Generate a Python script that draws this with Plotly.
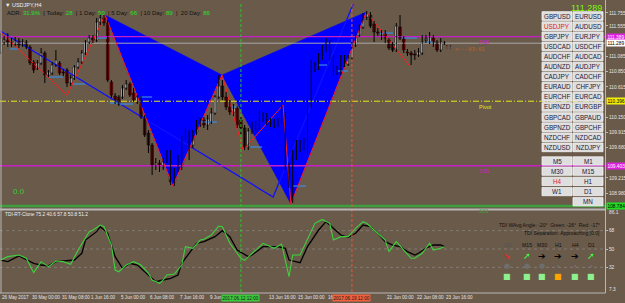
import plotly.graph_objects as go

W, H = 625, 303
BG = "#6a5a4a"
BORDER = "#b8b8b8"
FONT = "Liberation Sans, Arial, sans-serif"


def fx(px):
    return px / W


def fy(py):
    return 1 - py / H


# ---------------- data: USDJPY H4 candles ----------------
opens = [111.153, 111.307, 111.338, 111.307, 111.276, 111.322, 111.261, 111.307, 111.230, 110.999,
         110.907, 110.984, 111.138, 110.799, 110.830, 110.953, 110.984, 110.845, 110.876, 110.676,
         110.753, 110.922, 110.999, 111.138, 111.307, 111.368, 111.338, 111.615, 111.676, 111.599,
         110.691, 110.476, 110.461, 110.461, 110.599, 110.661, 110.522, 110.384, 110.445, 110.153,
         109.907, 109.722, 109.415, 109.445, 109.384, 109.491, 109.599, 109.153, 109.368, 109.384,
         109.830, 109.922, 109.722, 109.922, 110.030, 110.107, 110.030, 110.076, 110.215, 110.461,
         110.630, 110.461, 110.307, 110.230, 110.291, 110.107, 109.984, 109.691, 109.938, 109.984,
         109.999, 110.153, 110.153, 110.076, 110.076, 110.030, 110.076, 110.168, 109.384, 109.107,
         109.568, 109.676, 109.707, 109.615, 110.338, 110.938, 110.907, 111.076, 111.215, 111.307,
         111.076, 110.845, 110.845, 111.061, 110.968, 111.061, 111.261, 111.415, 111.538, 111.691,
         111.722, 111.584, 111.461, 111.415, 111.445, 111.338, 111.276, 111.184, 111.538, 111.368,
         111.153, 111.138, 111.122, 111.107, 111.138, 111.338, 111.307, 111.368, 111.307, 111.184,
         111.291]
highs = [111.445, 111.399, 111.445, 111.368, 111.384, 111.368, 111.353, 111.338, 111.261, 111.030,
         111.030, 111.215, 111.168, 110.876, 110.999, 111.184, 111.015, 110.891, 110.907, 110.799,
         110.953, 111.061, 111.184, 111.338, 111.415, 111.415, 111.676, 111.738, 111.722, 111.645,
         110.722, 110.522, 110.491, 110.645, 110.722, 110.691, 110.599, 110.491, 110.476, 110.184,
         109.953, 109.753, 109.522, 109.491, 109.522, 109.645, 109.645, 109.368, 109.568, 109.861,
         109.984, 109.953, 109.953, 110.107, 110.138, 110.153, 110.184, 110.291, 110.491, 110.799,
         110.722, 110.538, 110.415, 110.353, 110.322, 110.153, 110.030, 109.984, 110.076, 110.091,
         110.261, 110.230, 110.215, 110.138, 110.122, 110.138, 110.338, 110.230, 109.445, 109.645,
         109.799, 109.799, 109.830, 110.415, 111.030, 110.999, 111.138, 111.261, 111.368, 111.338,
         111.107, 110.938, 111.107, 111.107, 111.107, 111.307, 111.461, 111.584, 111.753, 111.784,
         111.768, 111.630, 111.522, 111.491, 111.491, 111.368, 111.307, 111.599, 111.722, 111.399,
         111.199, 111.168, 111.184, 111.215, 111.415, 111.415, 111.461, 111.415, 111.338, 111.368,
         111.322]
lows = [111.122, 111.261, 111.230, 111.230, 111.245, 111.215, 111.230, 111.199, 110.953, 110.830,
        110.876, 110.953, 110.676, 110.768, 110.799, 110.922, 110.799, 110.784, 110.615, 110.630,
        110.722, 110.891, 110.968, 111.107, 111.276, 111.291, 111.307, 111.568, 111.553, 110.691,
        110.445, 110.353, 110.322, 110.430, 110.568, 110.461, 110.384, 110.353, 110.122, 109.845,
        109.599, 109.261, 109.338, 109.307, 109.338, 109.445, 109.107, 109.091, 109.307, 109.338,
        109.799, 109.491, 109.676, 109.876, 109.999, 109.984, 109.953, 110.045, 110.184, 110.430,
        110.415, 110.261, 110.184, 110.168, 109.984, 109.876, 109.645, 109.645, 109.891, 109.938,
        109.968, 110.076, 110.030, 109.999, 109.984, 109.999, 110.045, 109.338, 109.061, 108.830,
        109.491, 109.615, 109.645, 109.584, 110.291, 110.845, 110.876, 111.030, 111.153, 111.030,
        110.784, 110.799, 110.799, 110.922, 110.938, 111.030, 111.230, 111.384, 111.507, 111.645,
        111.522, 111.307, 111.399, 111.338, 111.291, 111.184, 111.153, 111.153, 111.338, 111.138,
        111.091, 110.953, 111.030, 111.076, 111.107, 111.291, 111.276, 111.230, 111.153, 111.153,
        111.261]
closes = [111.368, 111.338, 111.307, 111.276, 111.322, 111.261, 111.307, 111.230, 110.984, 110.876,
          110.984, 111.138, 110.799, 110.845, 110.953, 111.030, 110.830, 110.830, 110.676, 110.753,
          110.922, 110.999, 111.138, 111.307, 111.368, 111.338, 111.615, 111.676, 111.599, 110.722,
          110.491, 110.415, 110.353, 110.599, 110.661, 110.491, 110.415, 110.461, 110.153, 109.876,
          109.722, 109.415, 109.445, 109.399, 109.461, 109.599, 109.153, 109.338, 109.399, 109.830,
          109.922, 109.691, 109.876, 110.030, 110.091, 110.030, 110.122, 110.215, 110.461, 110.630,
          110.461, 110.307, 110.230, 110.291, 110.030, 109.984, 109.691, 109.938, 109.999, 110.015,
          110.153, 110.122, 110.076, 110.045, 110.030, 110.076, 110.168, 109.384, 109.107, 109.568,
          109.691, 109.722, 109.753, 110.338, 110.953, 110.907, 111.076, 111.215, 111.307, 111.076,
          110.830, 110.876, 111.061, 110.968, 111.061, 111.261, 111.415, 111.538, 111.707, 111.738,
          111.553, 111.461, 111.445, 111.445, 111.368, 111.215, 111.184, 111.553, 111.368, 111.184,
          111.138, 111.107, 111.107, 111.153, 111.307, 111.353, 111.384, 111.307, 111.184, 111.307,
          111.289]

# time axis labels (bar index -> text); two are partly hidden behind the line boxes
time_label_idx = [0, 8, 16, 24, 32, 40, 48, 56, 72, 80, 88, 104, 112, 120]
time_labels = ["26 May 2017", "30 May 00:00", "31 May 08:00", "1 Jun 16:00", "5 Jun 00:00",
               "6 Jun 08:00", "7 Jun 16:00", "9 Jun 0", "13 Jun 16:00", "15 Jun 00:00",
               "16 J", "21 Jun 00:00", "22 Jun 08:00", "23 Jun 16:00"]
vline_idx = [65, 95]
vline_text = ["2017.06.12 12:00", "2017.06.19 12:00"]

# price axis
price_ticks = [111.755, 111.555, 111.085, 110.850, 110.615, 110.150, 109.915, 109.680, 109.215, 108.980]

# XABCD harmonic pattern pivots
xabcd_idx = [28.3, 46.6, 59.9, 78.5, 98.9]
xabcd_price = [111.722, 109.091, 110.800, 108.815, 111.770]

# zigzag
zigzag_idx = [0.0, 18.0, 28.3, 46.6, 59.9, 65.6, 76.4, 78.5, 98.9, 110.4]
zigzag_price = [111.460, 110.490, 111.722, 109.091, 110.800, 109.644, 110.337, 108.815, 111.770, 110.953]

# blue trend line
trend_idx = [0.0, 73.7, 95.8]
trend_price = [111.476, 108.922, 111.953]

# short steel-blue level segments
seg_start = [2.6, 12.9, 19.6, 26.1, 29.6, 32.3, 37.7, 54.0, 62.6, 67.5, 79.1, 85.8, 91.0, 102.6, 108.5, 114.8]
seg_end = [4.8, 16.9, 22.9, 28.8, 32.3, 35.8, 41.0, 58.5, 64.2, 70.7, 82.6, 88.3, 94.0, 106.1, 112.6, 117.0]
seg_price = [111.199, 110.768, 110.661, 111.368, 110.368, 110.353, 110.461, 110.076, 110.307, 109.691,
             109.091, 110.953, 110.861, 111.445, 111.368, 111.307]

# pivot levels
level_names = ["R38", "Pivot", "S38", "S61"]
level_values = [111.389, 110.396, 109.403, 108.784]
level_colors = ["#c81ec8", "#e6e614", "#c81ec8", "#3ca03c"]
level_dash = ["solid", "6px,2px,1px,2px", "solid", "solid"]
level_width = [1.3, 1, 1.3, 2.5]
bid = 111.289

# TDI indicator
tdi_green_x = [0, 2, 5, 7, 9, 11, 13, 15, 17, 19, 21, 24, 25, 27, 28, 30, 31, 32, 34, 36, 38, 40, 41, 43,
               44, 45, 47, 49, 50, 52, 54, 55, 57, 59, 60, 62, 63, 65, 66, 68, 69, 71, 74, 76, 78, 79,
               81, 83, 85, 87, 89, 90, 92, 94, 96, 98, 99, 101, 104, 105, 107, 109, 111, 112, 114, 116,
               117, 119, 120]
tdi_green = [39.2, 42.5, 44.1, 40.9, 26.8, 37.6, 32.7, 38.2, 37.6, 35.0, 49.0, 67.0, 68.6, 73.5, 71.9,
             53.9, 29.4, 27.7, 34.3, 37.6, 34.3, 26.2, 19.6, 16.3, 19.6, 24.5, 25.5, 34.3, 52.3, 50.7,
             58.8, 59.5, 63.7, 72.5, 71.9, 55.6, 50.7, 40.9, 38.8, 45.8, 49.0, 55.6, 50.7, 54.9, 22.8,
             44.1, 44.1, 58.8, 75.1, 79.0, 75.2, 58.8, 62.1, 62.1, 70.3, 76.8, 75.2, 68.6, 58.8, 47.4,
             57.2, 49.0, 40.9, 40.9, 45.8, 55.6, 49.0, 50.7, 52.3]
tdi_black_x = [0, 2, 5, 7, 9, 11, 13, 15, 18, 20, 22, 23, 26, 27, 29, 31, 33, 35, 37, 40, 42, 44, 46, 48,
               49, 51, 53, 55, 58, 60, 62, 64, 67, 68, 71, 75, 77, 78, 81, 83, 86, 88, 90, 92, 94, 96,
               98, 100, 102, 104, 106, 108, 110, 112, 113, 115, 117, 119, 120]
tdi_black = [39.2, 37.6, 43.1, 39.9, 36.0, 34.3, 33.4, 37.6, 38.2, 39.2, 45.8, 58.8, 67.0, 71.9, 65.4,
             42.5, 31.1, 36.0, 34.3, 24.5, 17.9, 19.6, 21.2, 24.5, 36.0, 45.8, 55.6, 57.2, 62.1, 68.0,
             62.1, 49.0, 42.5, 44.1, 52.3, 52.3, 50.7, 39.2, 36.6, 52.3, 68.6, 76.8, 70.2, 63.7, 61.4,
             65.4, 73.5, 71.9, 65.4, 57.2, 53.9, 52.3, 47.4, 44.1, 45.8, 50.7, 53.9, 53.9, 52.3]
tdi_levels = [68, 50, 32]

# TDI dashboard
tf_names = ["M5", "M15", "M30", "H1", "H4", "D1"]
tf_arrows = ["➘", "➚", "➔", "➔", "➔", "➚"]
tf_arrow_colors = ["#ff2020", "#40ff40", "#000000", "#000000", "#000000", "#40ff40"]
tf_dot_sizes = [7, 7, 7, 3, 3, 3]
tf_box_colors = ["#8ef08e", "#8ef08e", "#8ef08e", "#ffa500", "#8ef08e", "#8ef08e"]

# symbol buttons
pairs_left = ["GBPUSD", "USDJPY", "GBPJPY", "USDCAD", "AUDCHF", "AUDNZD", "CADJPY",
              "EURAUD", "EURCHF", "EURNZD", "GBPCAD", "GBPNZD", "NZDCHF", "NZDUSD"]
pairs_right = ["EURUSD", "AUDUSD", "EURJPY", "USDCHF", "AUDCAD", "AUDJPY", "CADCHF",
               "CHFJPY", "EURCAD", "EURGBP", "GBPAUD", "GBPCHF", "NZDCAD", "NZDJPY"]
tf_left = ["M5", "M30", "H4", "W1", None]
tf_right = ["M1", "M15", "H1", "D1", "MN"]
active = {"USDJPY", "H4"}

# ---------------- figure ----------------
n = len(closes)
idx = list(range(n))
XR = [-0.11, 163.4]
YR_MAIN = [108.753, 111.892]
YR_IND = [7.84, 87.25]

fig = go.Figure()

# harmonic triangles
tri1_x = [xabcd_idx[0], xabcd_idx[1], xabcd_idx[2], xabcd_idx[0]]
tri1_y = [xabcd_price[0], xabcd_price[1], xabcd_price[2], xabcd_price[0]]
tri2_x = [xabcd_idx[2], xabcd_idx[3], xabcd_idx[4], xabcd_idx[2]]
tri2_y = [xabcd_price[2], xabcd_price[3], xabcd_price[4], xabcd_price[2]]
for tx, ty in [(tri1_x, tri1_y), (tri2_x, tri2_y)]:
    fig.add_trace(go.Scatter(x=tx, y=ty, mode="lines", fill="toself", fillcolor="#0000ff",
                             line=dict(color="#0000ff", width=0.5), hoverinfo="skip"))

# trend line
fig.add_trace(go.Scatter(x=trend_idx, y=trend_price, mode="lines",
                         line=dict(color="#1010ff", width=1.3), hoverinfo="skip"))

# level lines
for v, c, d, w in zip(level_values, level_colors, level_dash, level_width):
    fig.add_trace(go.Scatter(x=XR, y=[v, v], mode="lines", line=dict(color=c, width=w, dash=d),
                             hoverinfo="skip"))
fig.add_trace(go.Scatter(x=XR, y=[bid, bid], mode="lines", line=dict(color="#a8a8a8", width=1),
                         hoverinfo="skip"))

# short blue segments
sx, sy = [], []
for a, b, p in zip(seg_start, seg_end, seg_price):
    sx += [a, b, None]
    sy += [p, p, None]
fig.add_trace(go.Scatter(x=sx, y=sy, mode="lines", line=dict(color="#3c8ce0", width=1.2),
                         hoverinfo="skip"))

# zigzag
fig.add_trace(go.Scatter(x=zigzag_idx, y=zigzag_price, mode="lines",
                         line=dict(color="#ff1e1e", width=1), hoverinfo="skip"))

# wicks
wx, wy = [], []
for i, h, l in zip(idx, highs, lows):
    wx += [i, i, None]
    wy += [l, h, None]
fig.add_trace(go.Scatter(x=wx, y=wy, mode="lines", line=dict(color="#000000", width=1),
                         hoverinfo="skip"))

# bodies
bull_x = [i for i, o, c in zip(idx, opens, closes) if c >= o]
bull_base = [o for o, c in zip(opens, closes) if c >= o]
bull_h = [max(c - o, 0.004) for o, c in zip(opens, closes) if c >= o]
bear_x = [i for i, o, c in zip(idx, opens, closes) if c < o]
bear_base = [c for o, c in zip(opens, closes) if c < o]
bear_h = [max(o - c, 0.004) for o, c in zip(opens, closes) if c < o]
fig.add_trace(go.Bar(x=bull_x, y=bull_h, base=bull_base, width=0.72,
                     marker=dict(color="#ffffff", line=dict(color="#000000", width=0.5)),
                     hoverinfo="skip"))
fig.add_trace(go.Bar(x=bear_x, y=bear_h, base=bear_base, width=0.72,
                     marker=dict(color="#8c0000", line=dict(color="#000000", width=0.5)),
                     hoverinfo="skip"))

# TDI pane
for lv in tdi_levels:
    fig.add_trace(go.Scatter(x=XR, y=[lv, lv], xaxis="x2", yaxis="y2", mode="lines",
                             line=dict(color="rgba(150,150,150,0.55)", width=1, dash="dot"),
                             hoverinfo="skip"))
fig.add_trace(go.Scatter(x=tdi_black_x, y=tdi_black, xaxis="x2", yaxis="y2", mode="lines",
                         line=dict(color="#000000", width=1.3), hoverinfo="skip"))
fig.add_trace(go.Scatter(x=tdi_green_x, y=tdi_green, xaxis="x2", yaxis="y2", mode="lines",
                         line=dict(color="#3cd23c", width=1.1), hoverinfo="skip"))

shapes = []
# vertical dashed lines
for vi, col in zip(vline_idx, ["#28c828", "#e8553a"]):
    shapes.append(dict(type="line", xref="x", yref="paper", x0=vi, x1=vi, y0=fy(292), y1=fy(4),
                       line=dict(color=col, width=1, dash="3px,2px"), layer="above"))
# borders
shapes.append(dict(type="line", xref="paper", yref="paper", x0=fx(605.5), x1=fx(605.5), y0=fy(293),
                   y1=1, line=dict(color=BORDER, width=1)))
shapes.append(dict(type="line", xref="paper", yref="paper", x0=fx(1), x1=fx(1), y0=fy(293),
                   y1=1, line=dict(color=BORDER, width=1)))
shapes.append(dict(type="line", xref="paper", yref="paper", x0=0, x1=fx(605.5), y0=fy(209.5),
                   y1=fy(209.5), line=dict(color=BORDER, width=2)))
shapes.append(dict(type="line", xref="paper", yref="paper", x0=0, x1=fx(605.5), y0=fy(293),
                   y1=fy(293), line=dict(color=BORDER, width=1)))

annotations = []

# symbol buttons
for k, (a, b) in enumerate(zip(pairs_left, pairs_right)):
    top = 11.7 + 10.1 * k
    for name, x0 in [(a, 542), (b, 573)]:
        shapes.append(dict(type="rect", xref="paper", yref="paper", x0=fx(x0), x1=fx(x0 + 30),
                           y0=fy(top + 8.7), y1=fy(top), fillcolor="#dedede",
                           line=dict(color="#f4f4f4", width=0.8), layer="above"))
        annotations.append(dict(xref="paper", yref="paper", x=fx(x0 + 15), y=fy(top + 4.4),
                                text=name, showarrow=False, xanchor="center", yanchor="middle",
                                font=dict(family=FONT, size=6.3,
                                          color="#e02020" if name in active else "#20203a")))
for k, (a, b) in enumerate(zip(tf_left, tf_right)):
    top = 156.8 + 10.2 * k
    for name, x0 in [(a, 542), (b, 573)]:
        if name is None:
            continue
        shapes.append(dict(type="rect", xref="paper", yref="paper", x0=fx(x0), x1=fx(x0 + 30),
                           y0=fy(top + 8.3), y1=fy(top), fillcolor="#dedede",
                           line=dict(color="#f4f4f4", width=0.8), layer="above"))
        annotations.append(dict(xref="paper", yref="paper", x=fx(x0 + 15), y=fy(top + 4.2),
                                text=name, showarrow=False, xanchor="center", yanchor="middle",
                                font=dict(family=FONT, size=6.3,
                                          color="#e02020" if name in active else "#20203a")))

# header
annotations.append(dict(xref="paper", yref="paper", x=fx(3), y=fy(4.5), xanchor="left", yanchor="middle",
                        text="▼ USDJPY,H4", showarrow=False,
                        font=dict(family=FONT, size=5.5, color="#f0f0f0")))
G = "#22e022"
D = "#111111"
adr = (f"<span style='color:{D}'>ADR: </span><span style='color:{G}'>31.9%</span>"
       f"<span style='color:{D}'>  | Today: </span><span style='color:{G}'>28</span>"
       f"<span style='color:{D}'>  | 1 Day: </span><span style='color:{G}'>50</span>"
       f"<span style='color:{D}'>  | 5 Day: </span><span style='color:{G}'>66</span>"
       f"<span style='color:{D}'>  | 10 Day: </span><span style='color:{G}'>89</span>"
       f"<span style='color:{D}'>  |  20 Day: </span><span style='color:{G}'>86</span>")
annotations.append(dict(xref="paper", yref="paper", x=fx(5), y=fy(12.5), xanchor="left", yanchor="middle",
                        text=adr, showarrow=False, font=dict(family=FONT, size=6)))
annotations.append(dict(xref="paper", yref="paper", x=fx(604), y=fy(8), xanchor="right", yanchor="middle",
                        text=f"{bid:.3f}", showarrow=False,
                        font=dict(family=FONT, size=9, color="#7cfc00")))
annotations.append(dict(xref="paper", yref="paper", x=fx(11), y=fy(191), xanchor="left", yanchor="middle",
                        text="0.0", showarrow=False, font=dict(family=FONT, size=8, color="#32cd32")))
annotations.append(dict(xref="paper", yref="paper", x=fx(453), y=fy(49), xanchor="left", yanchor="middle",
                        text="&lt;---03:01", showarrow=False,
                        font=dict(family="DejaVu Sans Mono, monospace", size=5.5, color="#c0602a")))
annotations.append(dict(xref="paper", yref="paper", x=fx(443), y=fy(46), xanchor="left", yanchor="middle",
                        text="↑↑", showarrow=False, font=dict(family=FONT, size=7, color="#000000")))

# level labels
for name, v, c in zip(level_names, level_values, level_colors):
    annotations.append(dict(xref="x", yref="y", x=128.8, y=v, xanchor="left", yanchor="top", yshift=-0.5,
                            text=name, showarrow=False,
                            font=dict(family=FONT, size=5.5, color=c)))

# right price boxes
boxes = [(level_values[0], "#e01ee0", "#ffffff"), (bid, "#ffffff", "#000000"),
         (level_values[1], "#f0f000", "#000000"), (level_values[2], "#e01ee0", "#ffffff"),
         (level_values[3], "#22dd22", "#000000")]
for v, bgc, fc in boxes:
    annotations.append(dict(xref="paper", yref="y", x=fx(606), y=v, xanchor="left", yanchor="middle",
                            text=f"{v:.3f}", showarrow=False, bgcolor=bgc, borderpad=0.5,
                            font=dict(family=FONT, size=4.8, color=fc)))

# TDI labels
annotations.append(dict(xref="paper", yref="paper", x=fx(3), y=fy(214.5), xanchor="left", yanchor="middle",
                        text="TDI-RT-Clone 75.2 40.6 57.8 50.8 51.2", showarrow=False,
                        font=dict(family=FONT, size=4.8, color="#f0f0f0")))
annotations.append(dict(xref="paper", yref="paper", x=fx(602), y=fy(225), xanchor="right", yanchor="middle",
                        text="TDI WAvg Angle: -20°  Green: -26°  Red: -17°", showarrow=False,
                        font=dict(family=FONT, size=5, color="#111111")))
annotations.append(dict(xref="paper", yref="paper", x=fx(602), y=fy(232.5), xanchor="right", yanchor="middle",
                        text="TDI Separation: Approaching [0.0]", showarrow=False,
                        font=dict(family=FONT, size=5, color="#111111")))
tf_x = [507, 527, 542, 558, 575, 591]
for k, name in enumerate(tf_names):
    annotations.append(dict(xref="paper", yref="paper", x=fx(tf_x[k]), y=fy(245), xanchor="center",
                            yanchor="middle", text=name, showarrow=False,
                            font=dict(family=FONT, size=5.2, color="#555555" if k == 0 else "#111111")))
    annotations.append(dict(xref="paper", yref="paper", x=fx(tf_x[k]), y=fy(255.5), xanchor="center",
                            yanchor="middle", text=tf_arrows[k], showarrow=False,
                            font=dict(family="DejaVu Sans", size=9, color=tf_arrow_colors[k])))
    annotations.append(dict(xref="paper", yref="paper", x=fx(tf_x[k]), y=fy(266), xanchor="center",
                            yanchor="middle", text="●", showarrow=False,
                            font=dict(family="DejaVu Sans", size=tf_dot_sizes[k], color="#6e6e6e")))
    annotations.append(dict(xref="paper", yref="paper", x=fx(tf_x[k]), y=fy(276.5), xanchor="center",
                            yanchor="middle", text="■", showarrow=False,
                            font=dict(family="DejaVu Sans", size=8, color=tf_box_colors[k])))

# indicator axis edge labels
for txt, py in [("86.1", 212.5), ("7.3", 289)]:
    annotations.append(dict(xref="paper", yref="paper", x=fx(607), y=fy(py), xanchor="left", yanchor="middle",
                            text=txt, showarrow=False, font=dict(family=FONT, size=4.8, color="#e6e6e6")))

# time labels
for ti, txt in zip(time_label_idx, time_labels):
    annotations.append(dict(xref="x2", yref="paper", x=ti, y=fy(297.5), xanchor="left", yanchor="middle",
                            text=txt, showarrow=False, font=dict(family=FONT, size=4.6, color="#e6e6e6")))
for vi, txt, bgc in zip(vline_idx, vline_text, ["#3cc83c", "#f0603c"]):
    annotations.append(dict(xref="x2", yref="paper", x=vi, y=fy(297.5), xanchor="center", yanchor="middle",
                            text=txt, showarrow=False, bgcolor=bgc, borderpad=0.5,
                            font=dict(family=FONT, size=4.6, color="#1a1a1a")))

axis_common = dict(showgrid=False, zeroline=False, showline=False, automargin=False)
fig.update_layout(
    width=W, height=H, margin=dict(l=0, r=0, t=0, b=0),
    paper_bgcolor=BG, plot_bgcolor="rgba(0,0,0,0)",
    showlegend=False, barmode="overlay", template="none",
    xaxis=dict(domain=[0, fx(605)], range=XR, showticklabels=False, ticks="", anchor="y", **axis_common),
    yaxis=dict(domain=[fy(208), fy(4)], range=YR_MAIN, side="right", anchor="x",
               tickvals=price_ticks, ticktext=[f"{p:.3f}" for p in price_ticks],
               tickfont=dict(family=FONT, size=4.8, color="#e6e6e6"), ticks="outside", ticklen=2,
               tickcolor=BORDER, **axis_common),
    xaxis2=dict(domain=[0, fx(605)], range=XR, showticklabels=False, ticks="", anchor="y2", **axis_common),
    yaxis2=dict(domain=[fy(292), fy(211)], range=YR_IND, side="right", anchor="x2",
                tickvals=tdi_levels, ticktext=[str(v) for v in tdi_levels],
                tickfont=dict(family=FONT, size=4.8, color="#e6e6e6"), ticks="outside", ticklen=2,
                tickcolor=BORDER, **axis_common),
    shapes=shapes, annotations=annotations,
)

fig.write_html("out.html", config={"displayModeBar": False})
